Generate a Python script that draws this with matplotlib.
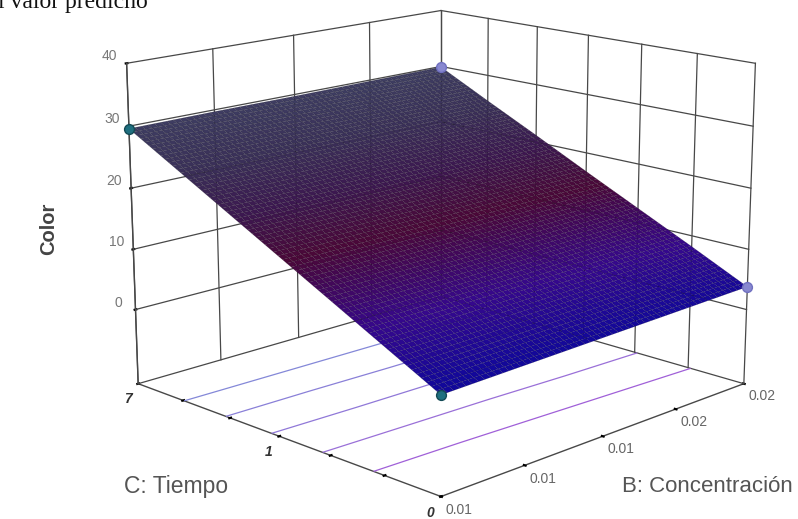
import numpy as np
import matplotlib
matplotlib.use("Agg")
import matplotlib.pyplot as plt
from matplotlib.colors import LinearSegmentedColormap, Normalize

# Data
b_ticks = [0, 1, 2, 3, 4]
b_labels = ["0.01", "0.01", "0.01", "0.02", "0.02"]
c_ticks = [0, 1, 2, 3, 4, 5, 6]
c_labels = ["0", "", "", "1", "", "", "7"]
z_ticks = [0, 10, 20, 30, 40]
z_floor = -12.5
# response read at the tick crossings: rows C, columns B
z_table = np.array([
    [2.6, 2.9, 3.2, 3.5, 3.8],
    [7.1, 7.3, 7.6, 7.9, 8.2],
    [11.6, 11.8, 12.0, 12.3, 12.5],
    [16.1, 16.3, 16.4, 16.7, 16.8],
    [20.6, 20.7, 20.9, 21.0, 21.2],
    [25.1, 25.2, 25.3, 25.4, 25.5],
    [29.6, 29.7, 29.7, 29.8, 29.9],
])
design_low = ([0, 0], [0, 6], [2.6, 29.6])
design_high = ([4, 4], [0, 6], [3.8, 29.9])
contour_levels = [8, 12.3, 16.8, 21, 25]
contour_colors = ["#a060d8", "#9a70d8", "#9078d8", "#8a80d8", "#8488d8"]

plt.rcParams["font.family"] = ["Liberation Sans", "DejaVu Sans"]
fig = plt.figure(figsize=(7.98, 5.19), dpi=100)
W, H = 798, 519
side = 680
left = 441 - 0.5135 * side
center_y = 226.5
bottom_px = center_y + 0.5135 * side
ax = fig.add_axes([left / W, (H - bottom_px) / H, side / W, side / H],
                  projection="3d", computed_zorder=False)
ax.set_proj_type("persp", focal_length=0.624)
ax.view_init(elev=15, azim=-135)
ax.set_box_aspect((1, 1, 0.76))
ax.set_xlim(0, 4, view_margin=0)
ax.set_ylim(0, 6, view_margin=0)
ax.set_zlim(z_floor, 40, view_margin=0)
ax.patch.set_alpha(0)

line_c = "#484848"
ax.grid(False)
for axis in (ax.xaxis, ax.yaxis, ax.zaxis):
    axis.set_pane_color((1, 1, 1, 0))
    axis.pane.set_edgecolor((1, 1, 1, 0))
    axis.line.set_color(line_c)
    axis.line.set_linewidth(1.0)
    axis._axinfo["tick"].update(inward_factor=0.03, outward_factor=0.03, color="#111111")
    axis._axinfo["tick"]["linewidth"] = {True: 1.6, False: 1.0}
ax.zaxis._axinfo["tick"]["color"] = "#a04040"

ax.set_xticks(b_ticks, b_labels, fontsize=10, color="#666666")
ax.set_yticks(c_ticks, c_labels, fontsize=10, color="#333333", fontstyle="italic", fontweight="bold")
ax.set_zticks(z_ticks, [str(v) for v in z_ticks], fontsize=10, color="#777777")
ax.tick_params(axis="x", pad=-4.5)
ax.tick_params(axis="y", pad=-3)
ax.tick_params(axis="z", pad=-1)
for lab in ax.get_xticklabels():
    lab.set_ha("left")
for lab in ax.get_yticklabels():
    lab.set_ha("right")
for lab in ax.get_zticklabels():
    lab.set_va("bottom")

lab_tf = fig.transFigure
ax.text2D(707 / W, 1 - 486 / H, "B: Concentración", transform=lab_tf, fontsize=16,
          color="#555555", ha="center", va="center")
ax.text2D(176 / W, 1 - 486 / H, "C: Tiempo", transform=lab_tf, fontsize=16.5,
          color="#555555", ha="center", va="center")
ax.text2D(49 / W, 1 - 229 / H, "Color", transform=lab_tf, fontsize=14.5, fontweight="bold",
          rotation=90, color="#444444", ha="center", va="center")

# walls
bmax, cmax = b_ticks[-1], c_ticks[-1]
kw = dict(color=line_c, lw=0.9, zorder=1)
for b in b_ticks:
    ax.plot([b, b], [cmax, cmax], [z_floor, 40], **kw)
for c in c_ticks:
    ax.plot([bmax, bmax], [c, c], [z_floor, 40], **kw)
for z in z_ticks:
    ax.plot([0, bmax], [cmax, cmax], [z, z], **kw)
    ax.plot([bmax, bmax], [0, cmax], [z, z], **kw)
ax.plot([0, bmax], [cmax, cmax], [z_floor, z_floor], **kw)
ax.plot([bmax, bmax], [0, cmax], [z_floor, z_floor], **kw)

# surface
bf = np.linspace(b_ticks[0], b_ticks[-1], 56)
cf = np.linspace(c_ticks[0], c_ticks[-1], 72)
z_c = np.array([np.interp(cf, c_ticks, z_table[:, j]) for j in range(len(b_ticks))]).T
Zf = np.array([np.interp(bf, b_ticks, row) for row in z_c])
Bf, Cf = np.meshgrid(bf, cf)

ax.contour(Bf, Cf, Zf, levels=contour_levels, zdir="z", offset=z_floor,
           colors=contour_colors, linewidths=0.9, zorder=2)

cmap = LinearSegmentedColormap.from_list("surf", [
    (0.0, "#12089a"), (0.2, "#36088c"), (0.45, "#4a0838"),
    (0.62, "#3c1850"), (0.8, "#3a3058"), (1.0, "#3e3e62")])
fc = cmap(Normalize(3, 30)(Zf))
ax.plot_surface(Bf, Cf, Zf, facecolors=fc, rstride=1, cstride=1, shade=False,
                edgecolor=(0, 0, 0, 0.25), linewidth=0.3, antialiased=True, zorder=3)

ax.scatter(*design_low, s=50, c="#1f6f7f", edgecolors="#134a55", depthshade=False, zorder=4, clip_on=False)
ax.scatter(*design_high, s=50, c="#8888d0", edgecolors="#7070c0", depthshade=False, zorder=4, clip_on=False)

fig.text(-0.002, 1 - 8 / H, "l valor predicho", family="Liberation Serif", fontsize=17,
         color="#111111", va="baseline", ha="left")
fig.savefig("out.png", dpi=100)
